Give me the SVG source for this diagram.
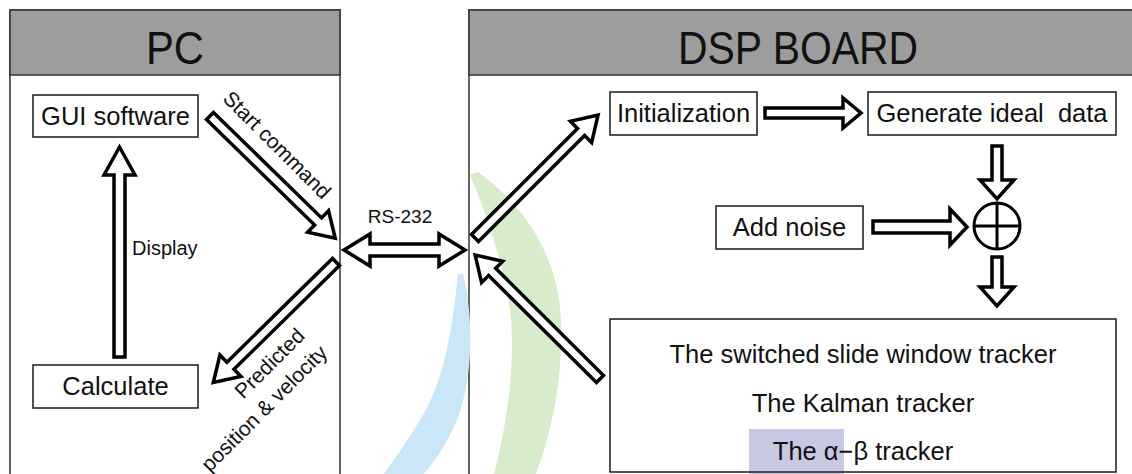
<svg xmlns="http://www.w3.org/2000/svg" width="1132" height="474" viewBox="0 0 1132 474">
  <defs>
    <style>
      .panel { fill: #ffffff; stroke: #333333; stroke-width: 1.5; }
      .header { fill: #9d9d9d; stroke: #333333; stroke-width: 1.5; }
      .box { fill: none; stroke: #1a1a1a; stroke-width: 1.5; }
      .arrow { fill: #ffffff; stroke: #000000; stroke-width: 3.5; stroke-linejoin: miter; }
      .t { font-family: "Liberation Sans", Arial, sans-serif; fill: #111111; }
      .title { font-family: "Liberation Sans", Arial, sans-serif; font-size: 46px; fill: #111111; text-anchor: middle; }
      .lbl { font-size: 25.5px; }
      .small { font-size: 20px; }
      .diag { font-size: 21px; }
    </style>
  </defs>

  <!-- panels -->
  <g id="pc-panel">
    <rect class="panel" x="10" y="10" width="330" height="480"/>
    <rect class="header" x="10" y="10" width="330" height="65"/>
    <text class="title" x="175" y="64" textLength="58" lengthAdjust="spacingAndGlyphs">PC</text>
  </g>
  <g id="dsp-panel">
    <rect class="panel" x="469" y="10" width="680" height="480"/>
    <rect class="header" x="469" y="10" width="680" height="65"/>
    <text class="title" x="798" y="64" textLength="240" lengthAdjust="spacingAndGlyphs">DSP BOARD</text>
  </g>

  <!-- faint background watermark shapes -->
  <g id="watermark">
    <path d="M458,274 C452,330 445,380 420,420 C405,445 392,462 384,474 L424,474 C440,455 455,430 462,405 C472,370 474,320 463,274 Z" fill="#c9e7f7"/>
    <path d="M470,175 C485,210 503,260 510,310 C516,360 508,420 494,474 L536,474 C552,430 563,380 561,320 C558,260 530,210 478,172 Z" fill="#d6ecca"/>
    <rect x="749" y="429" width="95" height="50" fill="#c8c8e3"/>
  </g>

  <!-- PC nodes -->
  <g id="gui">
    <rect class="box" x="33" y="95" width="165" height="42"/>
    <text class="t lbl" x="115.5" y="125" text-anchor="middle">GUI software</text>
  </g>
  <g id="calculate">
    <rect class="box" x="33" y="365" width="165" height="43"/>
    <text class="t lbl" x="115.5" y="395" text-anchor="middle">Calculate</text>
  </g>

  <!-- DSP nodes -->
  <g id="init">
    <rect class="box" x="610" y="92" width="147" height="43"/>
    <text class="t lbl" x="683.5" y="122" text-anchor="middle">Initialization</text>
  </g>
  <g id="generate">
    <rect class="box" x="868" y="92" width="248" height="43"/>
    <text class="t lbl" x="992" y="122" text-anchor="middle" xml:space="preserve">Generate ideal  data</text>
  </g>
  <g id="noise">
    <rect class="box" x="716" y="206" width="147" height="43"/>
    <text class="t lbl" x="789.5" y="236" text-anchor="middle">Add noise</text>
  </g>
  <g id="sum">
    <circle cx="997" cy="226" r="23" fill="none" stroke="#000" stroke-width="3"/>
    <line x1="974" y1="226" x2="1020" y2="226" stroke="#000" stroke-width="3"/>
    <line x1="997" y1="203" x2="997" y2="249" stroke="#000" stroke-width="3"/>
  </g>
  <g id="trackers">
    <rect class="box" x="610" y="319" width="506" height="153"/>
    <text class="t lbl" x="863" y="363" text-anchor="middle">The switched slide window tracker</text>
    <text class="t lbl" x="863" y="412" text-anchor="middle">The Kalman tracker</text>
    <text class="t lbl" x="863" y="460" text-anchor="middle">The α−β tracker</text>
  </g>

  <!-- connectors -->
  <g id="connectors">
    <!-- Display (Calculate -> GUI) -->
    <polygon class="arrow" points="114,357 114,175 104,175 119.5,147 135,175 125,175 125,357"/>
    <!-- Start command -->
    <polygon class="arrow" transform="translate(210,116) rotate(44.3)" points="0,-5 151,-5 151,-15 175,0 151,15 151,5 0,5"/>
    <!-- Predicted position & velocity -->
    <polygon class="arrow" transform="translate(336,262) rotate(135.5)" points="0,-5 148,-5 148,-15 172,0 148,15 148,5 0,5"/>
    <!-- RS-232 -->
    <polygon class="arrow" points="344,250 370,234 370,244 439,244 439,234 465,250 439,266 439,256 370,256 370,266"/>
    <!-- to Initialization -->
    <polygon class="arrow" transform="translate(475,238) rotate(-45)" points="0,-5 150,-5 150,-15 174,0 150,15 150,5 0,5"/>
    <!-- from trackers -->
    <polygon class="arrow" transform="translate(600,379) rotate(-135.2)" points="0,-5 152,-5 152,-15 176,0 152,15 152,5 0,5"/>
    <!-- Initialization -> Generate -->
    <polygon class="arrow" points="765,108 843,108 843,98 861,113 843,128 843,118 765,118"/>
    <!-- Add noise -> sum -->
    <polygon class="arrow" points="873,221 950,221 950,209 967,227 950,245 950,233 873,233"/>
    <!-- Generate -> sum -->
    <polygon class="arrow" stroke-width="3" points="992,146 1002,146 1002,180 1014,180 997,199 980,180 992,180"/>
    <!-- sum -> trackers -->
    <polygon class="arrow" stroke-width="3" points="992,257 1002,257 1002,287 1014,287 997,306 980,287 992,287"/>

    <!-- labels -->
    <text class="t small" x="132" y="255">Display</text>
    <text class="t" x="400" y="223" font-size="19" text-anchor="middle">RS-232</text>
    <text class="t diag" transform="translate(272,150) rotate(45)" text-anchor="middle">Start command</text>
    <g transform="translate(306,337) rotate(-45)">
      <text class="t diag" x="0" y="0" text-anchor="end">Predicted</text>
      <text class="t diag" x="4" y="28" text-anchor="end">position &amp; velocity</text>
    </g>
  </g>
</svg>
